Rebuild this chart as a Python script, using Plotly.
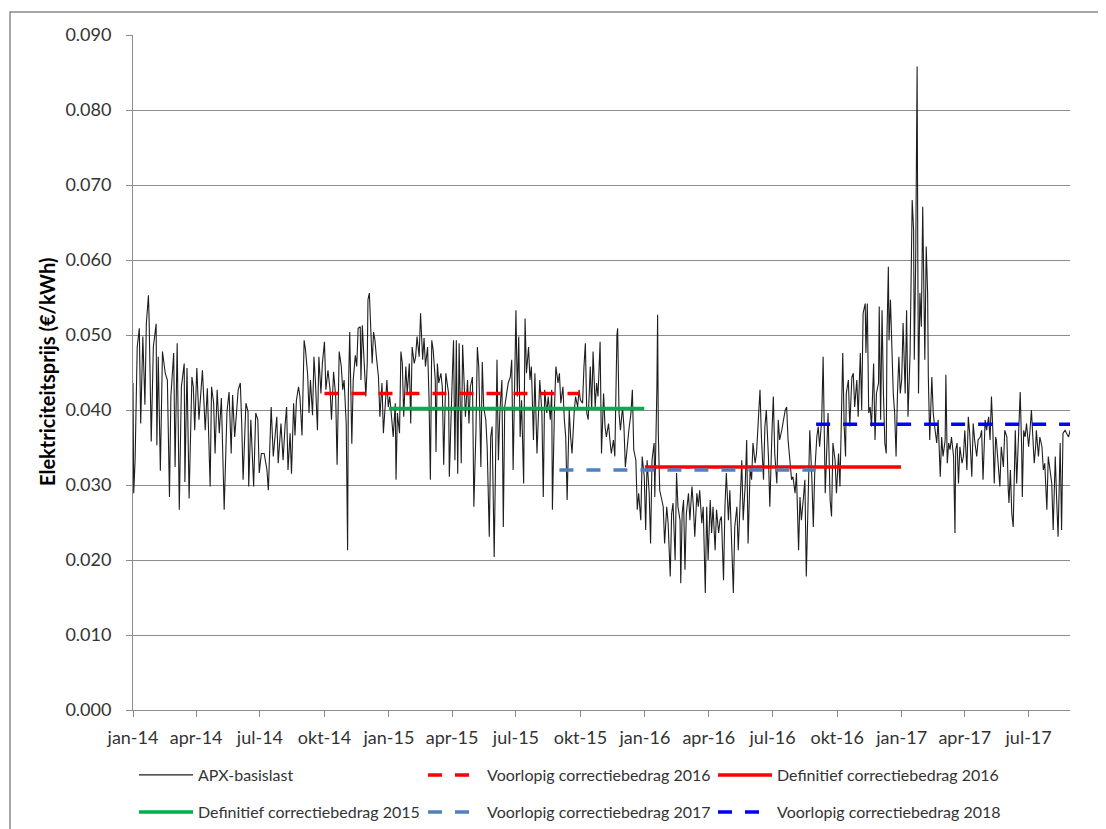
import pandas as pd
import plotly.graph_objects as go

# ---------------- data ----------------
# APX baseload price; day offsets counted from 2014-01-01, price in EUR/kWh
apx_day = [
    0, 1, 3, 6, 9, 11, 14, 17, 19, 22, 23, 26, 29, 33, 34, 36, 39, 42, 46, 49, 52, 54, 58, 60, 63, 66, 69, 73, 74, 77,
    80, 84, 86, 88, 91, 94, 99, 103, 106, 110, 112, 115, 117, 120, 123, 126, 130, 134, 137, 140, 142, 145, 150, 153,
    155, 157, 161, 164, 165, 168, 172, 175, 178, 180, 183, 187, 191, 193, 197, 200, 205, 207, 211, 214,
    217, 219, 221, 224, 226, 229, 231, 233, 236, 238, 241, 244, 246, 249, 251, 253, 256, 258, 260, 263, 265, 268, 270,
    273, 275, 278, 281, 283, 286, 289, 291, 294, 297, 299, 301, 304, 306, 307, 309, 311, 312, 314, 317, 319, 321, 324,
    325, 327, 329, 332, 334, 335, 337, 339, 341, 343, 345, 347, 350, 352, 355, 357, 359, 362, 364, 366, 369, 371, 374,
    375, 377, 380, 382, 384, 386, 389, 391, 394, 396, 398, 401, 403, 405, 408, 410, 413, 415, 417, 420, 422, 424, 426,
    428, 431, 432, 434, 436, 439, 441, 443, 446, 448, 450, 451, 453, 455, 457, 459,
    461, 463, 465, 468, 470, 472, 474, 477, 479, 481, 484, 486, 489, 491, 493, 496, 498, 500, 503, 505, 508, 510, 512,
    515, 517, 519, 521, 523, 526, 528, 530, 533, 535, 538, 540, 542, 545, 546, 548, 550, 552, 554, 557, 559, 561, 564,
    566, 568, 571, 573, 576, 578, 580, 583, 585, 587, 590, 592, 595, 597, 598, 601, 603, 606, 608, 610, 613, 615, 617,
    619, 622, 624, 626, 629, 631, 634, 636, 638, 641, 643, 645, 647, 649, 652, 654, 656, 659, 661, 663, 666, 668, 671,
    673, 675, 678, 680, 682, 685, 687, 690, 691, 693, 695, 698, 700, 702, 705, 707, 710,
    712, 714, 717, 719, 721, 724, 726, 729, 731, 733, 736, 738, 740, 743, 744, 747, 748, 749, 751, 754, 756, 758, 761,
    763, 766, 768, 770, 773, 775, 777, 780, 781, 783, 785, 787, 789, 792, 794, 797, 799, 801, 804, 806, 808, 811, 813,
    816, 818, 820, 823, 825, 827, 830, 832, 835, 837, 839, 842, 844, 846, 849, 851, 854, 856, 858, 861, 863, 865, 868,
    870, 873, 875, 877, 880, 882, 884, 887, 889, 892, 894, 896, 899, 901, 903, 906, 908, 911, 913, 915, 918, 920, 922,
    925, 927, 930, 932, 934, 937, 939, 941, 944, 946, 949, 951, 953, 956, 958, 960, 963, 965, 968, 970, 972, 975, 977,
    979, 982, 984,
    987, 989, 991, 994, 996, 998, 1001, 1003, 1006, 1008, 1010, 1012, 1014, 1016, 1017, 1020, 1022, 1025, 1027, 1029,
    1032, 1034, 1037, 1039, 1041, 1044, 1045, 1047, 1049, 1051, 1053, 1056, 1058, 1060, 1063, 1064, 1066, 1068, 1070,
    1072, 1074, 1075, 1077, 1078, 1080, 1082, 1084, 1086, 1088, 1090, 1092, 1094, 1096, 1098, 1101, 1103, 1105, 1108,
    1110, 1111, 1113, 1114, 1116, 1117, 1118, 1119, 1120, 1122, 1124, 1126, 1128, 1129, 1131, 1133, 1134, 1136, 1139,
    1141, 1143, 1146, 1148,
    1151, 1153, 1155, 1158, 1159, 1161, 1163, 1165, 1167, 1170, 1172, 1173, 1175, 1177, 1179, 1182, 1184, 1186, 1189,
    1191, 1193, 1196, 1198, 1200, 1203, 1205, 1208, 1210, 1212, 1215, 1217, 1220, 1222, 1224, 1226, 1228, 1230, 1231,
    1234, 1236, 1238, 1241, 1243, 1246, 1248, 1249, 1251, 1253, 1255, 1258, 1260, 1262, 1265, 1267, 1268, 1270, 1272,
    1274, 1277, 1279, 1281, 1283, 1285, 1287, 1288, 1291, 1293, 1296, 1298, 1300, 1303, 1305, 1307, 1310, 1312, 1315,
    1317, 1319, 1322, 1324, 1326, 1329, 1331, 1334, 1336,
]
apx_price = [
    0.0436, 0.0289, 0.0333, 0.0484, 0.0509, 0.0382, 0.0498, 0.0407, 0.0515, 0.0553, 0.0520, 0.0358, 0.0484, 0.0515,
    0.0353, 0.0471, 0.0319, 0.0478, 0.0449, 0.0440, 0.0284, 0.0418, 0.0476, 0.0324, 0.0489, 0.0267, 0.0431, 0.0462,
    0.0304, 0.0456, 0.0282, 0.0444, 0.0431, 0.0373, 0.0456, 0.0387, 0.0453, 0.0373, 0.0429, 0.0298, 0.0431, 0.0409,
    0.0342, 0.0427, 0.0369, 0.0416, 0.0267, 0.0398, 0.0424, 0.0342, 0.0420, 0.0364, 0.0427, 0.0436, 0.0382, 0.0307,
    0.0409, 0.0398, 0.0298, 0.0387, 0.0298, 0.0396, 0.0387, 0.0316, 0.0342, 0.0342, 0.0320, 0.0293, 0.0404, 0.0338,
    0.0391, 0.0329, 0.0382, 0.0333,
    0.0382, 0.0404, 0.0320, 0.0369, 0.0315, 0.0409, 0.0366, 0.0413, 0.0431, 0.0418, 0.0366, 0.0493, 0.0480, 0.0447,
    0.0396, 0.0440, 0.0393, 0.0471, 0.0440, 0.0373, 0.0471, 0.0422, 0.0462, 0.0491, 0.0427, 0.0453, 0.0427, 0.0387,
    0.0451, 0.0418, 0.0327, 0.0478, 0.0458, 0.0427, 0.0440, 0.0382, 0.0213, 0.0418, 0.0504, 0.0427, 0.0355, 0.0440,
    0.0473, 0.0458, 0.0509, 0.0511, 0.0440, 0.0513, 0.0473, 0.0418, 0.0462, 0.0547, 0.0556, 0.0511, 0.0462, 0.0504,
    0.0493, 0.0471, 0.0444, 0.0391, 0.0436, 0.0369, 0.0400, 0.0440, 0.0404, 0.0418, 0.0387, 0.0364, 0.0409, 0.0307,
    0.0396, 0.0369, 0.0478, 0.0462, 0.0391, 0.0458, 0.0422, 0.0462, 0.0382, 0.0484, 0.0462, 0.0471, 0.0498, 0.0471,
    0.0529, 0.0467, 0.0496, 0.0458, 0.0484, 0.0418, 0.0307, 0.0493, 0.0480, 0.0440, 0.0344, 0.0462, 0.0436, 0.0449,
    0.0431, 0.0327, 0.0449, 0.0436, 0.0422, 0.0311, 0.0396, 0.0436, 0.0493, 0.0333,
    0.0493, 0.0315, 0.0489, 0.0329, 0.0487, 0.0440, 0.0391, 0.0440, 0.0382, 0.0431, 0.0444, 0.0271, 0.0373, 0.0484,
    0.0458, 0.0324, 0.0464, 0.0404, 0.0387, 0.0351, 0.0231, 0.0364, 0.0378, 0.0204, 0.0382, 0.0467, 0.0333, 0.0396,
    0.0440, 0.0244, 0.0404, 0.0427, 0.0436, 0.0444, 0.0467, 0.0320, 0.0484, 0.0533, 0.0418, 0.0498, 0.0364, 0.0413,
    0.0302, 0.0522, 0.0449, 0.0484, 0.0440, 0.0458, 0.0360, 0.0449, 0.0342, 0.0404, 0.0440, 0.0396, 0.0284, 0.0427,
    0.0396, 0.0418, 0.0387, 0.0427, 0.0267, 0.0404, 0.0458, 0.0436, 0.0449, 0.0409, 0.0431, 0.0387, 0.0364, 0.0280,
    0.0400, 0.0364, 0.0342, 0.0396, 0.0418, 0.0404, 0.0427, 0.0413, 0.0409, 0.0458, 0.0489, 0.0396, 0.0387, 0.0458,
    0.0400, 0.0478, 0.0404, 0.0436, 0.0418, 0.0491, 0.0342, 0.0422, 0.0378, 0.0364, 0.0382, 0.0360, 0.0342, 0.0360,
    0.0338, 0.0500, 0.0509, 0.0396, 0.0373, 0.0404, 0.0378, 0.0324, 0.0356, 0.0373, 0.0396,
    0.0427, 0.0347, 0.0333, 0.0267, 0.0289, 0.0253, 0.0338, 0.0311, 0.0240, 0.0333, 0.0289, 0.0222, 0.0333, 0.0356,
    0.0284, 0.0431, 0.0527, 0.0369, 0.0293, 0.0280, 0.0271, 0.0222, 0.0271, 0.0249, 0.0178, 0.0262, 0.0276, 0.0200,
    0.0316, 0.0271, 0.0253, 0.0169, 0.0262, 0.0280, 0.0187, 0.0262, 0.0289, 0.0253, 0.0298, 0.0271, 0.0231, 0.0289,
    0.0271, 0.0293, 0.0249, 0.0271, 0.0156, 0.0271, 0.0200, 0.0280, 0.0236, 0.0271, 0.0213, 0.0267, 0.0236, 0.0253,
    0.0258, 0.0173, 0.0271, 0.0316, 0.0253, 0.0293, 0.0209, 0.0156, 0.0244, 0.0271, 0.0213, 0.0258, 0.0333, 0.0253,
    0.0302, 0.0360, 0.0222, 0.0324, 0.0307, 0.0356, 0.0329, 0.0342, 0.0387, 0.0427, 0.0364, 0.0307, 0.0378, 0.0400,
    0.0338, 0.0271, 0.0369, 0.0418, 0.0342, 0.0302, 0.0387, 0.0360, 0.0373, 0.0382, 0.0400, 0.0404, 0.0360, 0.0329,
    0.0307, 0.0311, 0.0289, 0.0316, 0.0213, 0.0284, 0.0253, 0.0284, 0.0307, 0.0178, 0.0298, 0.0373, 0.0307, 0.0244,
    0.0316, 0.0364, 0.0378, 0.0351, 0.0387, 0.0471,
    0.0289, 0.0356, 0.0396, 0.0280, 0.0258, 0.0356, 0.0333, 0.0289, 0.0342, 0.0298, 0.0404, 0.0476, 0.0378, 0.0338,
    0.0422, 0.0440, 0.0378, 0.0444, 0.0449, 0.0404, 0.0440, 0.0391, 0.0476, 0.0400, 0.0529, 0.0542, 0.0476, 0.0542,
    0.0396, 0.0404, 0.0378, 0.0462, 0.0360, 0.0422, 0.0436, 0.0538, 0.0387, 0.0533, 0.0422, 0.0356, 0.0342, 0.0498,
    0.0591, 0.0493, 0.0547, 0.0467, 0.0422, 0.0396, 0.0338, 0.0422, 0.0471, 0.0422, 0.0440, 0.0516, 0.0422, 0.0533,
    0.0391, 0.0476, 0.0618, 0.0680, 0.0640, 0.0467, 0.0600, 0.0724, 0.0858, 0.0600, 0.0422, 0.0556, 0.0511, 0.0671,
    0.0564, 0.0467, 0.0618, 0.0556, 0.0444, 0.0360, 0.0444, 0.0396, 0.0378, 0.0356, 0.0387,
    0.0311, 0.0364, 0.0338, 0.0360, 0.0447, 0.0329, 0.0356, 0.0347, 0.0364, 0.0338, 0.0236, 0.0347, 0.0356, 0.0302,
    0.0351, 0.0329, 0.0338, 0.0373, 0.0320, 0.0391, 0.0369, 0.0311, 0.0382, 0.0360, 0.0338, 0.0360, 0.0364, 0.0373,
    0.0307, 0.0387, 0.0373, 0.0391, 0.0360, 0.0418, 0.0373, 0.0302, 0.0364, 0.0360, 0.0329, 0.0298, 0.0351, 0.0324,
    0.0373, 0.0364, 0.0293, 0.0276, 0.0320, 0.0262, 0.0244, 0.0373, 0.0302, 0.0356, 0.0424, 0.0351, 0.0284, 0.0373,
    0.0364, 0.0382, 0.0351, 0.0373, 0.0400, 0.0364, 0.0329, 0.0351, 0.0373, 0.0338, 0.0364, 0.0351, 0.0320, 0.0329,
    0.0267, 0.0338, 0.0320, 0.0302, 0.0240, 0.0338, 0.0280, 0.0231, 0.0356, 0.0240, 0.0369, 0.0373, 0.0369, 0.0364,
    0.0373,
]

# correction amounts (flat levels over a period)
ref_names = [
    "Voorlopig correctiebedrag 2016",
    "Definitief correctiebedrag 2016",
    "Definitief correctiebedrag 2015",
    "Voorlopig correctiebedrag 2017",
    "Voorlopig correctiebedrag 2018",
]
ref_start = ["2014-10-01", "2016-01-01", "2015-01-01", "2015-09-01", "2016-09-01"]
ref_end = ["2015-09-30", "2016-12-31", "2015-12-31", "2016-08-31", "2017-08-29"]
ref_value = [0.0422, 0.0324, 0.0402, 0.0320, 0.0381]

tick_dates = ["2014-01-01", "2014-04-01", "2014-07-01", "2014-10-01", "2015-01-01", "2015-04-01",
              "2015-07-01", "2015-10-01", "2016-01-01", "2016-04-01", "2016-07-01", "2016-10-01",
              "2017-01-01", "2017-04-01", "2017-07-01"]
tick_labels = ["jan-14", "apr-14", "jul-14", "okt-14", "jan-15", "apr-15", "jul-15", "okt-15",
               "jan-16", "apr-16", "jul-16", "okt-16", "jan-17", "apr-17", "jul-17"]

# ---------------- styles ----------------
ref_color = ["#FF0000", "#FF0000", "#00B050", "#4F81BD", "#0000FF"]
ref_dash = ["14px,13px", "solid", "solid", "14px,13px", "14px,13px"]
ref_legend = ["legend2", "legend3", "legend4", "legend5", "legend6"]

FONT = "Lato, 'Open Sans', sans-serif"
GRID = "#8c8c8c"
TXT = "#333333"

start = pd.Timestamp("2014-01-01")
apx_dates = [start + pd.Timedelta(days=d) for d in apx_day]

fig = go.Figure()
fig.add_trace(go.Scatter(
    x=apx_dates, y=apx_price, mode="lines", name="APX-basislast",
    line=dict(color="#1e1e1e", width=1.1), legend="legend",
))
for n, s, e, v, c, dsh, lg in zip(ref_names, ref_start, ref_end, ref_value, ref_color, ref_dash, ref_legend):
    fig.add_trace(go.Scatter(
        x=[s, e], y=[v, v], mode="lines", name=n,
        line=dict(color=c, width=3.5, dash=dsh), legend=lg,
    ))

# The page body adds an 8 px offset; figure coordinates = page coordinates - 8.
OFF = 8
W, H = 1106 - OFF, 829 - OFF
# plot area on the page: x 133..1070, y 35..710
L, T = 133 - OFF, 35 - OFF
R = W - (1070 - OFF)
B = H - (710 - OFF)
pw, ph = W - L - R, H - T - B


def px_x(px):
    """page pixel x -> paper coordinate"""
    return (px - OFF - L) / pw


def px_y(py):
    """page pixel y -> paper coordinate"""
    return (H - B - (py - OFF)) / ph


legend_common = dict(
    orientation="h", xanchor="left", yanchor="middle", itemwidth=54,
    font=dict(family=FONT, size=16, color=TXT), bgcolor="rgba(0,0,0,0)",
    borderwidth=0, itemclick=False, itemdoubleclick=False,
)
row1, row2 = px_y(775), px_y(812)
col1, col2, col3 = px_x(134), px_x(423), px_x(713)

fig.update_layout(
    width=W, height=H, autosize=False,
    margin=dict(l=L, r=R, t=T, b=B, autoexpand=False),
    paper_bgcolor="white", plot_bgcolor="white",
    font=dict(family=FONT, color=TXT),
    showlegend=True,
    legend=dict(x=col1, y=row1, **legend_common),
    legend2=dict(x=col2, y=row1, **legend_common),
    legend3=dict(x=col3, y=row1, **legend_common),
    legend4=dict(x=col1, y=row2, **legend_common),
    legend5=dict(x=col2, y=row2, **legend_common),
    legend6=dict(x=col3, y=row2, **legend_common),
    xaxis=dict(
        type="date",
        range=[start, start + pd.Timedelta(days=apx_day[-1])],
        tickvals=tick_dates, ticktext=tick_labels,
        ticks="outside", ticklen=6, tickcolor=GRID, tickwidth=1,
        showline=True, linecolor=GRID, linewidth=1,
        showgrid=False, zeroline=False,
        ticklabelstandoff=5,
        tickfont=dict(family=FONT, size=18, color=TXT),
    ),
    yaxis=dict(
        range=[0, 0.09], dtick=0.01, tick0=0, tickformat=".3f",
        showgrid=True, gridcolor=GRID, gridwidth=1, zeroline=False,
        showline=True, linecolor=GRID, linewidth=1,
        ticks="outside", ticklen=6, tickcolor=GRID,
        ticklabelstandoff=11,
        tickfont=dict(family=FONT, size=18, color=TXT),
    ),
    shapes=[dict(
        type="rect", xref="paper", yref="paper",
        x0=px_x(10), x1=px_x(1120), y0=px_y(845), y1=px_y(12),
        line=dict(color="#8a8a8a", width=1.5), fillcolor="rgba(0,0,0,0)", layer="below",
    )],
    annotations=[dict(
        text="<b>Elektriciteitsprijs (€/kWh)</b>", textangle=-90,
        xref="paper", yref="paper", x=px_x(47), y=px_y(372),
        xanchor="center", yanchor="middle", showarrow=False,
        font=dict(family=FONT, size=20, color="#000000"),
    )],
)

fig.write_html("out.html")
